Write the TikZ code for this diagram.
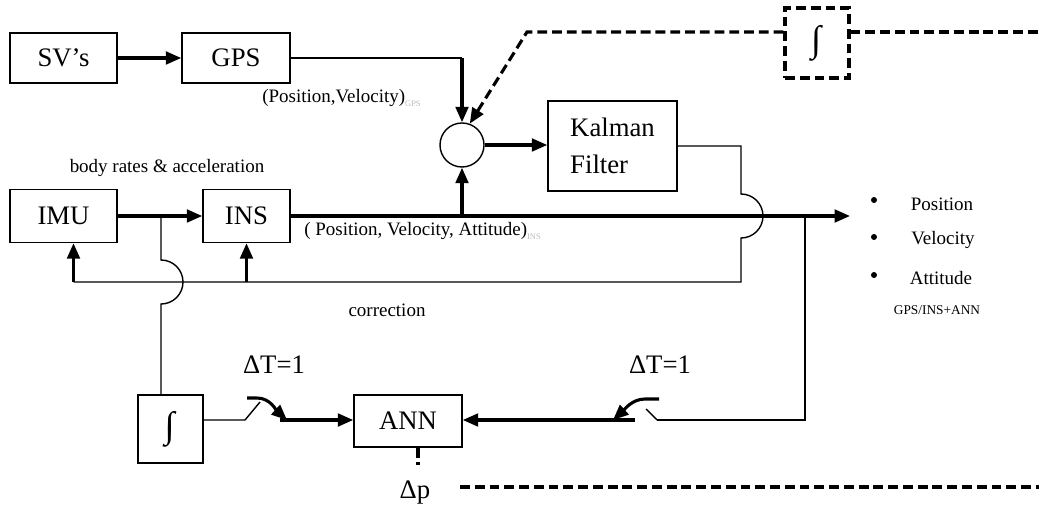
\documentclass[tikz,border=0pt]{standalone}
\usepackage{fontspec}
\setmainfont{Liberation Serif}
\usepackage{xcolor}
\usetikzlibrary{
    arrows.meta,
    positioning,
    calc
}
\newcommand{\lowsub}[1]{\raisebox{-2.5pt}{\textcolor{gray!55}{\fontsize{6}{6}\selectfont #1}}}
\newcommand{\bigint}{\fontsize{26}{28}\selectfont\textbf{∫}}

\begin{document}
\begin{tikzpicture}[
    x=0.025cm, y=-0.025cm,
    block/.style={
        draw=black,
        line width=1pt,
        inner sep=0pt,
        font=\fontsize{19}{22}\selectfont
    },
    note/.style={inner sep=0pt, font=\fontsize{13.5}{15}\selectfont},
    bignote/.style={inner sep=0pt, font=\fontsize{19}{22}\selectfont},
    dot/.style={circle, fill=black, inner sep=0pt, minimum size=0.15cm},
    thinline/.style={line width=1pt},
    thickline/.style={line width=2.2pt},
    tip/.style={-{Triangle[length=11pt,width=9pt]}},
    arrow/.style={tip, thickline},
    dashline/.style={line width=2.2pt, dash pattern=on 7pt off 3.5pt}
]

\useasboundingbox (0,0) rectangle (1039,511);

% Blocks
\node[block, minimum width=2.675cm, minimum height=1.25cm] (sv) at (63.5,58) {SV’s};
\node[block, minimum width=2.7cm, minimum height=1.25cm] (gps) at (236,58) {GPS};
\node[block, minimum width=2.675cm, minimum height=1.325cm] (imu) at (63.5,216) {IMU};
\node[block, minimum width=2.175cm, minimum height=1.325cm] (ins) at (246.5,216) {INS};
\node[circle, draw, thinline, minimum size=1.1cm, inner sep=0pt] (sum) at (462,145) {};
\node[block, minimum width=3.225cm, minimum height=2.25cm, align=left] (kf) at (612.5,146) {Kalman\\[4pt]Filter};
\node[block, dashline, minimum width=1.6cm, minimum height=1.75cm] (intA) at (817,43) {\bigint};
\node[block, minimum width=1.625cm, minimum height=1.7cm] (intB) at (170.5,429) {\bigint};
\node[block, minimum width=2.7cm, minimum height=1.3cm] (ann) at (408,421) {ANN};

% Labels
\node[note, anchor=west] (gpsout) at (262,98) {(Position,Velocity)\lowsub{GPS}};
\node[note] (imuout) at (167,168) {body rates \& acceleration};
\node[note, anchor=west] (insout) at (304,231) {( Position, Velocity, Attitude)\lowsub{INS}};
\node[note] (corr) at (387,310) {correction};
\node[bignote] (dtL) at (274,365) {ΔT=1};
\node[bignote] (dtR) at (660,365) {ΔT=1};
\node[bignote] (dp) at (415,493) {Δp};

% Outputs
\node[dot] (b1) at (874,200) {};
\node[dot] (b2) at (874,237) {};
\node[dot] (b3) at (874,275) {};
\node[note] (pos) at (942,204) {Position};
\node[note] (vel) at (943,240) {Velocity};
\node[note] (att) at (941,278) {Attitude};
\node[inner sep=0pt, font=\fontsize{9.5}{11}\selectfont] (combo) at (937,310) {GPS/INS+ANN};

% GPS branch
\coordinate (gpsturn) at (gps.east -| sum.north);
\draw[arrow] (sv) -- (gps);
\draw[thinline] (gps.east) -- (gpsturn);
\draw[arrow] (gpsturn) -- (sum.north);

% Dashed integrator loop
\coordinate (dcorner) at (527,32);
\coordinate (dright) at (1039,32);
\draw[dashline, tip] (intA.west |- dcorner) -- (dcorner) -- (sum.70);
\draw[dashline] (intA.east |- dcorner) -- (dright);

% INS path
\coordinate (outtip) at (850,216);
\draw[arrow] (imu) -- (ins);
\draw[arrow] (ins.east) -- (outtip);
\draw[arrow] (sum.south |- ins.east) -- (sum.south);
\draw[arrow] (sum.east) -- (kf.west |- sum.east);

% Correction loop
\coordinate (hopK) at (741,216);
\coordinate (corrR) at (741,282);
\draw[thinline] (kf.east) -| ($(hopK)+(0,-22)$)
    arc[start angle=90, end angle=-90, radius=0.55cm] -- (corrR)
    -- ($(imu.south |- corrR)+(10,0)$);
\draw[arrow] ($(imu.south |- corrR)+(10,0)$) -- ($(imu.south)+(10,0)$);
\draw[arrow] (ins.south |- corrR) -- (ins.south);

% IMU tap to integrator
\coordinate (branch) at (161,216);
\draw[thinline] (branch) -- ($(branch |- corrR)+(0,-22)$)
    arc[start angle=90, end angle=-90, radius=0.55cm] -- (branch |- intB.north);

% Left switch
\coordinate (swL) at (245,420);
\coordinate (swLtip) at (280,420);
\draw[thinline] (intB.east |- swL) -- (swL) -- ++(15,-18);
\draw[thickline, tip] (247,398) -- (257,398) .. controls (270,398) and (276,410) .. (287,420);
\draw[arrow] (swLtip) -- (ann.west |- swLtip);

% Right switch
\coordinate (tapR) at (805,216);
\coordinate (swR) at (657,420);
\coordinate (swRtip) at (635,420);
\draw[thinline] (tapR) |- (swR);
\draw[thinline] (swR) -- ++(-11,-11);
\draw[thickline, tip] (659,399) -- (645,399) .. controls (632,399) and (624,410) .. (613,420);
\draw[arrow] (swRtip) -- (ann.east |- swRtip);

% ANN output
\coordinate (dbotL) at (460,487);
\coordinate (dbotR) at (1039,487);
\draw[dashline] ($(ann.south)+(10,0)$) -- ++(0,17);
\draw[dashline] (dbotL) -- (dbotR);

\end{tikzpicture}
\end{document}
